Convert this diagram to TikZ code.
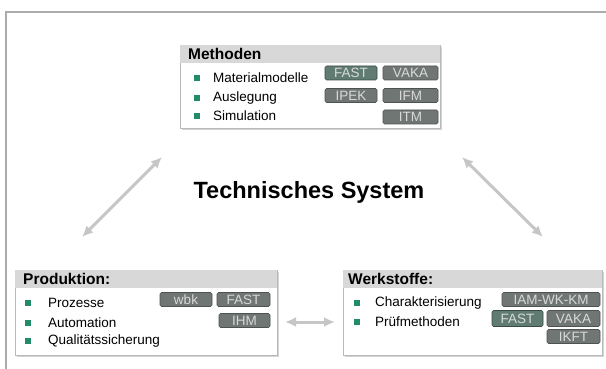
\documentclass[tikz,border=0pt]{standalone}
\usepackage{fontspec}
\setmainfont{Liberation Sans}
\usetikzlibrary{arrows.meta, shadows}

\definecolor{bulletgreen}{RGB}{34,140,104}
\definecolor{taggray}{RGB}{112,118,115}
\definecolor{tagteal}{RGB}{96,124,114}
\definecolor{headgray}{RGB}{216,216,216}

\begin{document}
\begin{tikzpicture}[x=1pt, y=-1pt, >={Latex[length=11pt,width=10pt]},
    panel/.style={draw=gray!55, fill=white, line width=0.8pt, anchor=north west,
        drop shadow={opacity=0.35, shadow xshift=1.5pt, shadow yshift=-1.5pt}},
    headline/.style={anchor=west, font=\fontsize{15.5}{18}\selectfont\bfseries, inner sep=0pt},
    item/.style={anchor=west, font=\fontsize{13.5}{16}\selectfont, inner sep=0pt, text=black},
    bullet/.style={fill=bulletgreen, minimum size=6pt, inner sep=0pt},
    tag/.style={fill=taggray, draw=taggray!70!black, rounded corners=1.5pt, line width=0.6pt,
        text=white!85!black, font=\fontsize{13.5}{15}\selectfont, inner sep=0pt, minimum height=14pt},
    tagfast/.style={tag, fill=tagteal, draw=tagteal!60!black},
    link/.style={<->, gray!45, line width=3pt}]
    % Rahmen und Grenzen des Bildes
    \useasboundingbox (0,0) rectangle (606,369);
    \draw[gray!65, line width=1.5pt] (6,369) -- (6,12) -- (606,12);

    % Methoden (oben)
    \node[panel, minimum width=260pt, minimum height=83pt] (meth) at (180,45) {};
    \fill[headgray] (180.4,45.4) rectangle (439.6,63);
    \node[headline] (methT) at (188,54) {Methoden};
    \node[bullet] (mb1) at (197,78) {};
    \node[bullet] (mb2) at (197,98) {};
    \node[bullet] (mb3) at (197,116) {};
    \node[item] (mi1) at (213,78) {Materialmodelle};
    \node[item] (mi2) at (213,98) {Auslegung};
    \node[item] (mi3) at (213,116) {Simulation};
    \node[tagfast, minimum width=52pt] (mFAST) at (351,73) {FAST};
    \node[tag, minimum width=55pt] (mVAKA) at (410.5,73) {VAKA};
    \node[tag, minimum width=52pt] (mIPEK) at (351,95.5) {IPEK};
    \node[tag, minimum width=55pt] (mIFM) at (410.5,95.5) {IFM};
    \node[tag, minimum width=55pt] (mITM) at (410.5,117) {ITM};

    % Produktion (unten links)
    \node[panel, minimum width=262pt, minimum height=85pt] (prod) at (15,270) {};
    \fill[headgray] (15.4,270.4) rectangle (276.6,288);
    \node[headline] (prodT) at (23,279) {Produktion:};
    \node[bullet] (pb1) at (28,303) {};
    \node[bullet] (pb2) at (28,322.5) {};
    \node[bullet] (pb3) at (28,341) {};
    \node[item] (pi1) at (48,303) {Prozesse};
    \node[item] (pi2) at (48,322.5) {Automation};
    \node[item] (pi3) at (48,341) {Qualitätssicherung};
    \node[tag, minimum width=52pt] (pwbk) at (186,299.5) {wbk};
    \node[tag, minimum width=53pt] (pFAST) at (243.5,299.5) {FAST};
    \node[tag, minimum width=51pt] (pIHM) at (244.5,320.5) {IHM};

    % Werkstoffe (unten rechts)
    \node[panel, minimum width=259pt, minimum height=85pt] (werk) at (343,270) {};
    \fill[headgray] (343.4,270.4) rectangle (601.6,288);
    \node[headline] (werkT) at (348,279) {Werkstoffe:};
    \node[bullet] (wb1) at (357,303) {};
    \node[bullet] (wb2) at (357,322) {};
    \node[item] (wi1) at (375,303) {Charakterisierung};
    \node[item] (wi2) at (375,322) {Prüfmethoden};
    \node[tag, minimum width=98pt] (wIAM) at (551,299.5) {IAM-WK-KM};
    \node[tagfast, minimum width=51pt, minimum height=16pt] (wFAST) at (517.5,318.5) {FAST};
    \node[tag, minimum width=53pt, minimum height=16pt] (wVAKA) at (573.5,318.5) {VAKA};
    \node[tag, minimum width=53pt] (wIKFT) at (573.5,336.5) {IKFT};

    % Mitte
    \node[font=\fontsize{23.5}{28}\selectfont\bfseries] (sys) at (309,192) {Technisches System};

    % Wechselwirkungen
    \coordinate (aL1) at (82,237);
    \coordinate (aL2) at (162,157);
    \coordinate (aR1) at (462,157);
    \coordinate (aR2) at (543,237);
    \coordinate (aM1) at (285,322);
    \coordinate (aM2) at (335,322);
    \draw[link] (aL1) -- (aL2);
    \draw[link] (aR1) -- (aR2);
    \draw[link] (aM1) -- (aM2);
\end{tikzpicture}
\end{document}
